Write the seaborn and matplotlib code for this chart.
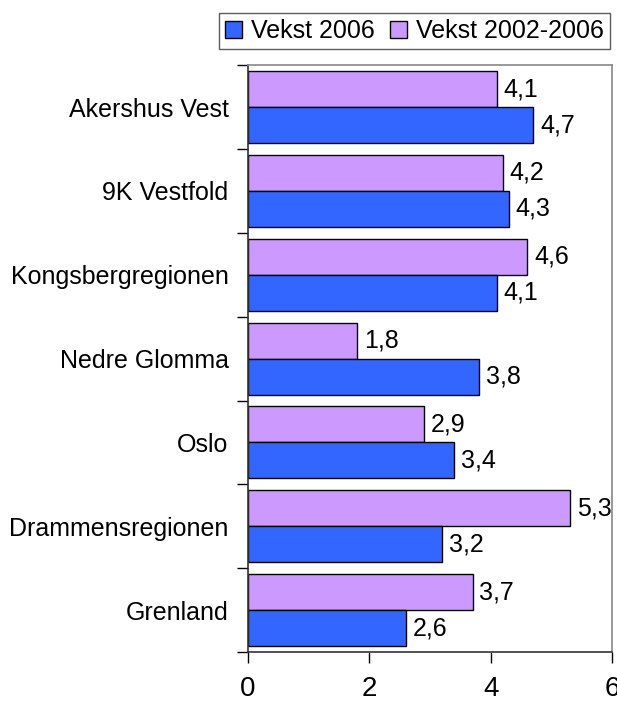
import matplotlib
matplotlib.use("Agg")
import matplotlib.pyplot as plt
import numpy as np
import pandas as pd
import seaborn as sns
from matplotlib.patches import Patch

# ---------------------------------------------------------------------------
# Data
# ---------------------------------------------------------------------------
regions = [
    "Akershus Vest",
    "9K Vestfold",
    "Kongsbergregionen",
    "Nedre Glomma",
    "Oslo",
    "Drammensregionen",
    "Grenland",
]
vekst_2006 = [4.7, 4.3, 4.1, 3.8, 3.4, 3.2, 2.6]
vekst_2002_2006 = [4.1, 4.2, 4.6, 1.8, 2.9, 5.3, 3.7]

series = ["Vekst 2006", "Vekst 2002-2006"]
colors = {"Vekst 2006": "#3366FF", "Vekst 2002-2006": "#CC99FF"}
x_ticks = [0, 2, 4, 6]

df = pd.concat([
    pd.DataFrame({"region": regions, "serie": "Vekst 2006", "value": vekst_2006}),
    pd.DataFrame({"region": regions, "serie": "Vekst 2002-2006", "value": vekst_2002_2006}),
])

sns.set_style("white")
plt.rcParams["font.family"] = ["Liberation Sans", "DejaVu Sans"]
plt.rcParams["text.color"] = "black"
plt.rcParams["xtick.color"] = "black"
plt.rcParams["ytick.color"] = "black"

fig = plt.figure(figsize=(6.17, 7.02), dpi=100)
ax = fig.add_axes([0.402, 0.0712, 0.590, 0.836])

# purple bar sits above the blue one in each group
bar_order = ["Vekst 2002-2006", "Vekst 2006"]
sns.barplot(
    data=df, y="region", x="value", hue="serie",
    order=regions, hue_order=bar_order, palette=colors,
    orient="h", width=0.86, edgecolor="black", linewidth=1,
    saturation=1, legend=False, ax=ax,
)

# value labels with decimal comma
values_by_series = {"Vekst 2006": vekst_2006, "Vekst 2002-2006": vekst_2002_2006}
for container, name in zip(ax.containers, bar_order):
    labels = [f"{v:.1f}".replace(".", ",") for v in values_by_series[name]]
    ax.bar_label(container, labels=labels, padding=5, fontsize=18, color="black")

ax.set_xlim(0, 6)
ax.set_ylim(len(regions) - 0.5, -0.5)
ax.set_xticks(x_ticks)
ax.set_xticklabels([str(t) for t in x_ticks], fontsize=20)
ax.set_xlabel("")
ax.set_ylabel("")
ax.tick_params(axis="y", which="major", length=0, labelsize=18, pad=14, labelcolor="black")
ax.set_yticks(np.arange(-0.5, len(regions)), minor=True)
ax.tick_params(axis="y", which="minor", length=8, width=1, direction="out", left=True)
ax.tick_params(axis="x", which="major", length=8, width=1, direction="out", bottom=True,
               pad=9, labelcolor="black")

for side in ["left", "bottom"]:
    ax.spines[side].set_color("#333333")
    ax.spines[side].set_linewidth(1.2)
for side in ["top", "right"]:
    ax.spines[side].set_color("#888888")
    ax.spines[side].set_linewidth(1.2)

handles = [Patch(facecolor=colors[s], edgecolor="black", linewidth=1, label=s) for s in series]
leg = fig.legend(
    handles=handles, ncol=2, loc="upper right",
    bbox_to_anchor=(0.989, 0.9815), bbox_transform=fig.transFigure,
    fontsize=18, frameon=True, fancybox=False,
    handlelength=0.7, handleheight=0.7, handletextpad=0.35,
    columnspacing=0.6, borderpad=0.25, borderaxespad=0,
)
leg.get_frame().set_edgecolor("#333333")
leg.get_frame().set_linewidth(1)

fig.savefig("out.png", dpi=100)
plt.close(fig)
